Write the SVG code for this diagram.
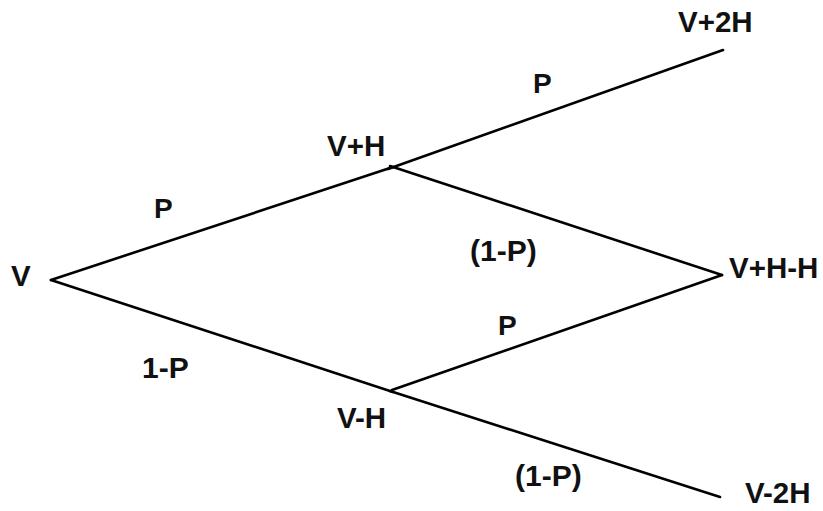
<svg xmlns="http://www.w3.org/2000/svg" width="823" height="511" viewBox="0 0 823 511">
  <style>
    .edge { stroke: #000; stroke-width: 2.6; fill: none; stroke-linecap: round; stroke-linejoin: round; }
    .lbl { font-family: "Liberation Sans", Arial, sans-serif; font-weight: bold; font-size: 29.5px; fill: #111; }
    .prob { font-family: "Liberation Sans", Arial, sans-serif; font-weight: bold; font-size: 30px; fill: #111; }
    .p { font-size: 28px; }
  </style>
  <rect width="823" height="511" fill="#fff"/>

  <!-- branches of the two-step tree -->
  <g id="connectors">
    <line class="edge" x1="51" y1="280" x2="393" y2="167"/>
    <line class="edge" x1="51" y1="280" x2="393" y2="392"/>
    <line class="edge" x1="388" y1="169" x2="723" y2="50"/>
    <line class="edge" x1="390" y1="166" x2="722" y2="275"/>
    <line class="edge" x1="392" y1="390" x2="722" y2="275"/>
    <line class="edge" x1="390" y1="391" x2="720" y2="497"/>
  </g>

  <!-- branch probabilities -->
  <g id="edge-labels">
    <text class="prob p" x="533" y="93">P</text>
    <text class="prob p" x="154" y="218">P</text>
    <text class="prob" x="470" y="261">(1-P)</text>
    <text class="prob p" x="498" y="335">P</text>
    <text class="prob" x="142" y="378">1-P</text>
    <text class="prob" x="515" y="486">(1-P)</text>
  </g>

  <!-- nodes -->
  <g id="node-v"><text class="lbl" x="11" y="286">V</text></g>
  <g id="node-vh-up"><text class="lbl" x="327" y="156">V+H</text></g>
  <g id="node-vh-down"><text class="lbl" x="337" y="428">V-H</text></g>
  <g id="node-v2h-up"><text class="lbl" x="678" y="32">V+2H</text></g>
  <g id="node-vhh"><text class="lbl" x="729" y="278">V+H-H</text></g>
  <g id="node-v2h-down"><text class="lbl" x="745" y="503">V-2H</text></g>
</svg>
